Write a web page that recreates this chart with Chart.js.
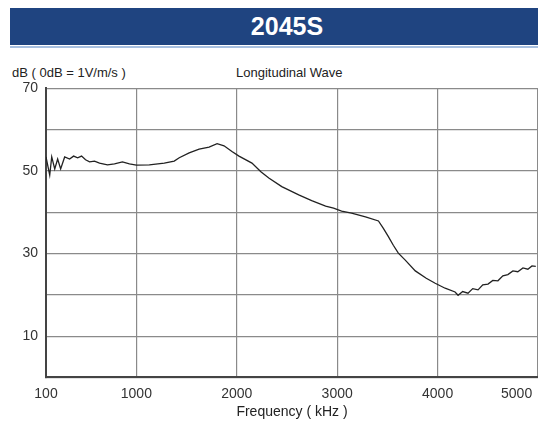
<!DOCTYPE html>
<html>
<head>
<meta charset="utf-8">
<script src="https://cdn.jsdelivr.net/npm/chart.js@4.4.0/dist/chart.umd.min.js"></script>
<style>
  body { margin: 0; background: #fff; font-family: "Liberation Sans", Arial, sans-serif; overflow: hidden; }
  .banner { position: absolute; left: 10px; top: 8px; width: 528px; height: 37px; background: #1f4480;
            color: #fff; font-weight: bold; font-size: 25px; line-height: 37px; text-align: center; padding-left: 26px; box-sizing: border-box; }
  .rule { position: absolute; left: 10px; top: 46px; width: 528px; height: 2px; background: #a7bfdf; }
  .lbl { position: absolute; font-size: 13px; color: #222; top: 65px; }
  #wrap { position: absolute; left: 0; top: 72px; width: 538px; height: 355px; }
</style>
</head>
<body>
<div class="banner">2045S</div>
<div class="rule"></div>
<div class="lbl" style="left:12px">dB ( 0dB = 1V/m/s )</div>
<div class="lbl" style="left:236px">Longitudinal Wave</div>
<div id="wrap"><canvas id="chart"></canvas></div>
<script>
const freqs = [100, 137, 157, 187, 216, 246, 286, 335, 375, 415, 454, 494, 534, 583, 633, 712, 782, 861, 931,
  1000, 1129, 1278, 1377, 1427, 1526, 1625, 1724, 1804, 1873, 1952, 2022, 2151, 2240, 2319, 2448, 2617, 2746,
  2885, 2964, 3044, 3143, 3282, 3411, 3460, 3510, 3559, 3609, 3678, 3778, 3887, 3976, 4075, 4174, 4204, 4250,
  4303, 4350, 4403, 4450, 4502, 4550, 4601, 4650, 4700, 4750, 4799, 4850, 4899, 4940, 4978];
const levels = [53.4, 49.0, 53.4, 50.5, 52.9, 50.5, 53.4, 52.9, 53.6, 53.2, 53.6, 52.7, 52.2, 52.4, 51.9, 51.5, 51.7, 52.2, 51.7,
  51.4, 51.5, 51.9, 52.4, 53.2, 54.4, 55.3, 55.8, 56.6, 56.1, 54.7, 53.6, 51.9, 49.8, 48.3, 46.2, 44.2, 42.8,
  41.5, 41.0, 40.3, 39.8, 38.9, 37.9, 36.1, 34.1, 32.0, 30.1, 28.4, 25.8, 24.0, 22.8, 21.6, 20.7, 19.9, 20.8,
  20.4, 21.5, 21.2, 22.4, 22.6, 23.5, 23.4, 24.6, 24.9, 25.8, 25.6, 26.5, 26.2, 27.0, 26.9];
const xTicks = [100, 1000, 2000, 3000, 4000, 5000];
const yLabels = [10, 30, 50, 70];

const points = freqs.map((f, i) => ({ x: f, y: levels[i] }));
const tickFont = { family: "'Liberation Sans', Arial, sans-serif", size: 14 };

new Chart(document.getElementById('chart'), {
  type: 'line',
  data: {
    datasets: [{ data: points, borderColor: '#222', borderWidth: 1.3, pointRadius: 0, tension: 0, fill: false }]
  },
  options: {
    responsive: true,
    maintainAspectRatio: false,
    animation: false,
    layout: { padding: { top: 10, right: 0, left: 0, bottom: 0 } },
    plugins: { legend: { display: false }, tooltip: { enabled: false } },
    scales: {
      x: {
        type: 'linear', min: 100, max: 5000,
        afterBuildTicks: (s) => { s.ticks = xTicks.map(v => ({ value: v })); },
        afterFit: (s) => { s.paddingRight = 0; },
        grid: { color: '#8a8a8a', lineWidth: 1.2, drawTicks: false },
        border: { color: '#444', width: 2 },
        ticks: {
          color: '#333', font: tickFont, padding: 8, maxRotation: 0, autoSkip: false,
          callback: (v) => v === 5000 ? '5000' + '\u00a0'.repeat(11) : String(v)
        },
        title: { display: true, text: 'Frequency ( kHz )', color: '#222', font: tickFont, padding: { top: -6, bottom: 6 } }
      },
      y: {
        min: 0, max: 70,
        afterFit: (s) => { s.width = 46; },
        grid: { color: '#8a8a8a', lineWidth: 1.2, drawTicks: false },
        border: { color: '#444', width: 2 },
        ticks: {
          stepSize: 10, color: '#333', font: tickFont, padding: 8,
          callback: (v) => yLabels.includes(v) ? String(v) : ''
        }
      }
    }
  }
});
</script>
</body>
</html>
